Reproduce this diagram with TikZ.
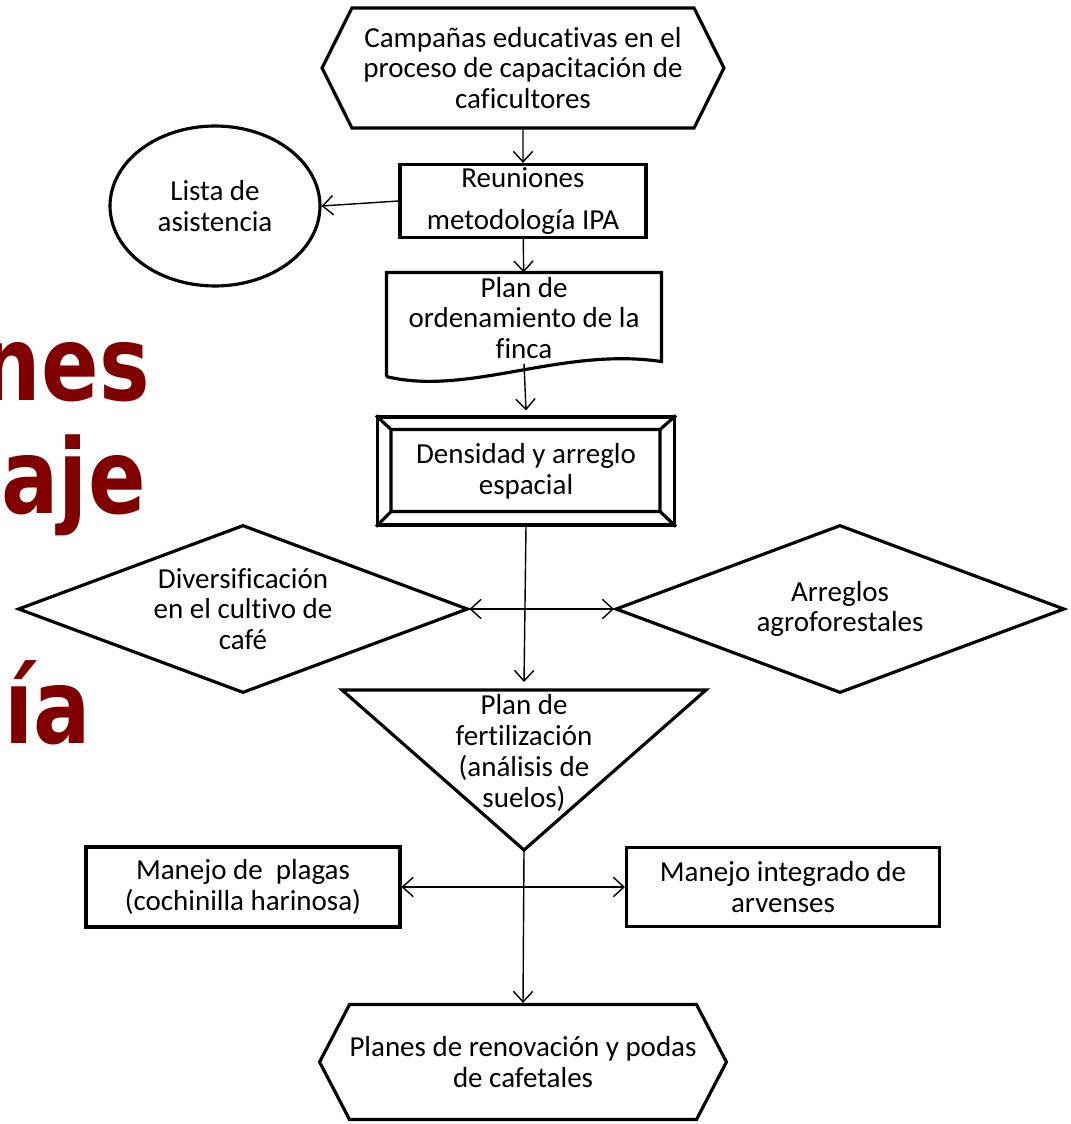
\documentclass[tikz,border=0pt]{standalone}
\usepackage{fontspec}
\setmainfont{Carlito}[Ligatures=NoCommon]
\newfontfamily\titlefont{DejaVu Sans}
\usetikzlibrary{shapes.geometric,shapes.symbols,arrows.meta}
\definecolor{titlered}{RGB}{128,0,0}

\begin{document}
\begin{tikzpicture}[x=0.02cm,y=-0.02cm,
  box/.style={draw,line width=1.8pt,align=center,inner sep=0pt,
    font=\fontsize{16.5}{17.5}\selectfont},
  hexa/.style={box,signal,signal to=east and west},
  flow/.style={line width=0.8pt,-{Straight Barb[length=6pt,width=11pt]}},
  both/.style={line width=0.8pt,{Straight Barb[length=6pt,width=11pt]}-{Straight Barb[length=6pt,width=11pt]}},
  title/.style={text=titlered,anchor=base east,inner sep=0pt,xscale=0.82,
    font=\titlefont\bfseries\fontsize{59}{59}\selectfont},
]
\useasboundingbox (0,0) rectangle (1070,1124);
\clip (0,0) rectangle (1070,1124);

\node (t1) [title] at (150,400) {nes};
\node (t2) [title] at (146,513) {aje};
\node (t3) [title] at (91,743) {ía};

\node (camp) [hexa,signal pointer angle=127,minimum width=8.04cm,minimum height=2.4cm] at (523,68)
  {Campañas educativas en el\\proceso de capacitación de\\caficultores};
\node (reun) [box,minimum width=4.92cm,minimum height=1.46cm] at (523,201)
  {Reuniones\\[6pt]metodología IPA};
\node (lista) [box,ellipse,minimum width=4.2cm,minimum height=3.2cm] at (215,206)
  {Lista de\\asistencia};
\node (plan) [box,draw=none,minimum width=5.44cm,minimum height=1.76cm] at (524,318)
  {Plan de\\ordenamiento de la\\finca};
\draw[line width=1.8pt] ([yshift=-0.26cm]plan.south west) -- (plan.north west) -- (plan.north east)
  -- ([yshift=0.04cm]plan.south east) .. controls +(-100,-15) and +(82,20) .. ([yshift=-0.26cm]plan.south west);

\node (dens) [box,minimum width=5.94cm,minimum height=2.16cm] at (526,471)
  {Densidad y arreglo\\espacial};
\coordinate (dnw) at ([shift={(15,14)}]dens.north west);
\coordinate (dne) at ([shift={(-16,14)}]dens.north east);
\coordinate (dsw) at ([shift={(15,-15)}]dens.south west);
\coordinate (dse) at ([shift={(-16,-15)}]dens.south east);
\draw[line width=1.8pt] (dnw) rectangle (dse)
  (dens.north west) -- (dnw) (dens.north east) -- (dne)
  (dens.south west) -- (dsw) (dens.south east) -- (dse);

\node (divers) [box,diamond,aspect=2.68,minimum width=9cm,minimum height=3.36cm] at (243,609)
  {Diversificación\\en el cultivo de\\café};
\node (arreg) [box,diamond,aspect=2.68,minimum width=8.98cm,minimum height=3.36cm] at (840,609)
  {Arreglos\\agroforestales};

\coordinate (fleft) at (342,690);
\coordinate (fright) at (706,690);
\coordinate (ftop) at (524,690);
\coordinate (fapex) at (524,850);
\draw[line width=1.8pt] (fleft) -- (fright) -- (fapex) -- cycle;
\node (fert) [align=center,inner sep=0pt,font=\fontsize{16.5}{17.5}\selectfont] at (524,753)
  {Plan de\\fertilización\\(análisis de\\suelos)};

\node (plagas) [box,minimum width=6.28cm,minimum height=1.6cm] at (243,887)
  {Manejo de~ plagas\\(cochinilla harinosa)};
\node (arven) [box,minimum width=6.26cm,minimum height=1.58cm] at (783,887)
  {Manejo integrado de\\arvenses};
\node (renov) [hexa,signal pointer angle=125,minimum width=8.04cm,minimum height=2.3cm] at (523,1062)
  {Planes de renovación y podas\\de cafetales};

\draw[flow] (camp) -- (reun);
\draw[flow] (reun.west) -- (lista.east);
\draw[flow] (reun) -- (plan);
\draw[flow] (plan.south) -- ([yshift=0.1cm]dens.north);
\draw[flow] (dens.south) -- ([yshift=0.16cm]ftop);
\draw[both] (divers.east) -- (arreg.west);
\draw[flow] (fapex) -- (renov.north);
\draw[both] (plagas.east) -- (arven.west);
\end{tikzpicture}
\end{document}
